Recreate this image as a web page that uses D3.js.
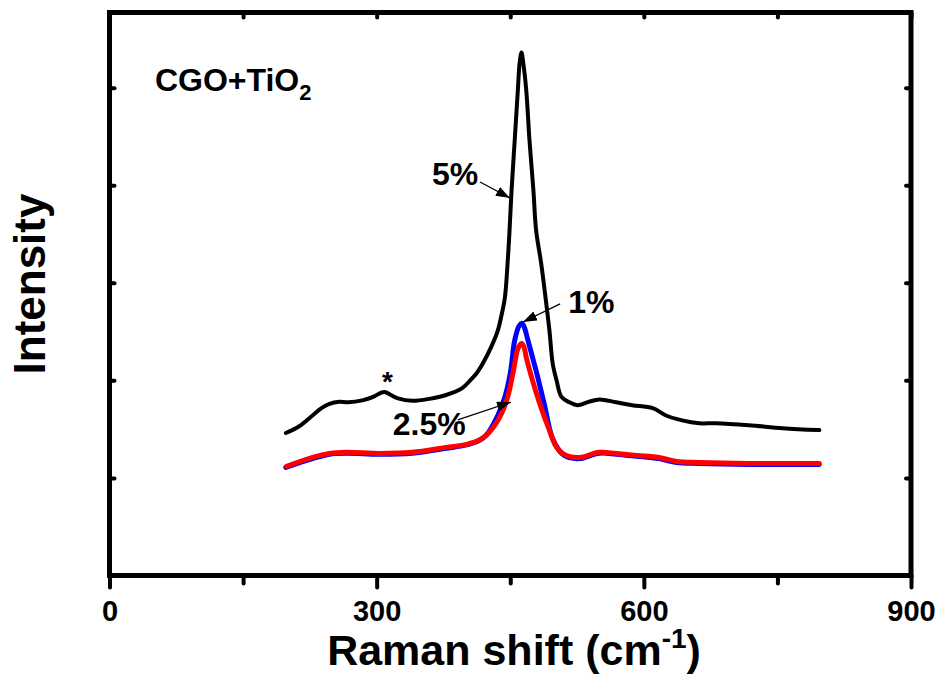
<html>
<head>
<meta charset="utf-8">
<title>Raman CGO+TiO2</title>
<style>
  body { margin: 0; background: #fff; }
  text { font-family: "Liberation Sans", Arial, sans-serif; font-weight: bold; fill: #000; }
</style>
<script src="https://cdn.jsdelivr.net/npm/d3@7"></script>
</head>
<body>
<div id="chart"></div>
<script>
// Raman shift (cm-1) vs intensity (a.u.)
var black5 = [[198,1460],[213,1530],[228,1640],[238,1715],[247,1760],[258,1780],[268,1775],[284,1795],[296,1830],[303,1865],[309,1880],[316,1850],[324,1815],[340,1790],[359,1810],[378,1850],[396,1920],[406,2010],[412,2070],[419,2170],[428,2330],[436,2510],[440,2660],[444,2850],[447,3200],[449,3500],[451.5,3950],[455,4460],[458.5,4970],[460.5,5250],[462.6,5360],[464.5,5260],[468,4970],[471.6,4460],[476,3950],[479,3540],[484.7,3200],[489.6,2850],[494,2510],[497.7,2170],[502,2000],[507.5,1830],[516.5,1775],[525.5,1745],[538,1780],[550,1805],[569,1775],[587,1745],[610,1715],[625,1640],[643,1590],[662,1560],[681,1560],[718,1540],[756,1510],[797,1490]];
var blue1 = [[198,1108],[228,1198],[247,1243],[266,1253],[303,1243],[340,1253],[378,1303],[401,1338],[415,1383],[423,1438],[436,1640],[444,1830],[450,2070],[455,2410],[460,2560],[463,2585],[466,2540],[469,2440],[474,2270],[479,2100],[488,1764],[497,1415],[505,1280],[511,1228],[516,1208],[528,1198],[550,1253],[569,1243],[592,1223],[617,1198],[637,1158],[662,1148],[718,1138],[797,1138]];
var red25 = [[199,1118],[228,1210],[247,1251],[266,1262],[303,1251],[340,1262],[378,1313],[401,1344],[415,1385],[423,1436],[438,1620],[447,1826],[453,2072],[458,2308],[460.5,2360],[463,2379],[465.5,2340],[468,2236],[475,2000],[483,1764],[494,1487],[502,1313],[509,1251],[516,1220],[528,1210],[550,1262],[569,1251],[592,1231],[617,1210],[637,1169],[662,1159],[718,1149],[797,1149]];

var xMajor = [0, 300, 600, 900];
var xMinor = [150, 450, 750];
var yTicks = [1000, 2000, 3000, 4000, 5000];

// labels: text, anchor point in data units
var labels = [
  {text: "5%",   x: 414, y: 4002, anchor: "end"},
  {text: "1%",   x: 515, y: 2690, anchor: "start"},
  {text: "2.5%", x: 318, y: 1440, anchor: "start"},
  {text: "*",    x: 312, y: 1891, anchor: "middle"}
];
// arrows: from -> to, data units
var arrows = [
  [[416, 4033], [449.7, 3869]],
  [[506, 2783], [464.3, 2598]],
  [[391, 1594], [450.8, 1778]]
];

var W = 941, H = 675;
var svg = d3.select('#chart').append('svg')
    .attr('width', W)
    .attr('height', H);

var x = d3.scaleLinear().domain([0, 900]).range([109.5, 911]);
var y = d3.scaleLinear().domain([0, 5770]).range([575.5, 12.5]);

svg.append('defs').append('marker')
    .attr('id', 'head')
    .attr('markerUnits', 'userSpaceOnUse')
    .attr('markerWidth', 14)
    .attr('markerHeight', 10)
    .attr('viewBox', '0 0 14 10')
    .attr('refX', 14)
    .attr('refY', 5)
    .attr('orient', 'auto')
  .append('path')
    .attr('d', 'M0,0L14,5L0,10Z')
    .attr('fill', '#000');

// bottom axis, ticks outward
var gx = svg.append('g').attr('transform', 'translate(0,' + y(0) + ')');
gx.call(d3.axisBottom(x).tickValues(xMajor).tickSize(12).tickPadding(12.5).tickFormat(d3.format('d')));
gx.append('g').call(d3.axisBottom(x).tickValues(xMinor).tickSize(8).tickFormat(''));
gx.selectAll('.domain').remove();
gx.selectAll('text').attr('font-size', 29).attr('font-family', '"Liberation Sans", Arial, sans-serif').attr('font-weight', 'bold').attr('fill', '#000');

// top axis, ticks inward
var gt = svg.append('g').attr('transform', 'translate(0,' + y(5770) + ')');
gt.call(d3.axisTop(x).tickValues(xMajor.concat(xMinor)).tickSize(-5).tickFormat(''));
gt.selectAll('.domain').remove();

// left + right axes, inward ticks, no labels
var gl = svg.append('g').attr('transform', 'translate(' + x(0) + ',0)');
gl.call(d3.axisLeft(y).tickValues(yTicks).tickSize(-5).tickFormat(''));
gl.selectAll('.domain').remove();
var gr = svg.append('g').attr('transform', 'translate(' + x(900) + ',0)');
gr.call(d3.axisRight(y).tickValues(yTicks).tickSize(-5).tickFormat(''));
gr.selectAll('.domain').remove();

svg.selectAll('.tick line')
    .attr('stroke', '#000')
    .attr('stroke-width', 4)
    .attr('stroke-linecap', 'round');

// frame
svg.append('rect')
    .attr('x', x(0))
    .attr('y', y(5770))
    .attr('width', x(900) - x(0))
    .attr('height', y(0) - y(5770))
    .attr('fill', 'none')
    .attr('stroke', '#000')
    .attr('stroke-width', 5);

var line = d3.line()
    .x(function(d) { return x(d[0]); })
    .y(function(d) { return y(d[1]); })
    .curve(d3.curveCatmullRom.alpha(0.5));

var series = [
  {data: black5, color: '#000', w: 4},
  {data: blue1,  color: '#0000ff', w: 5},
  {data: red25,  color: '#ff0000', w: 5}
];
svg.selectAll('path.spec')
    .data(series)
  .enter().append('path')
    .attr('class', 'spec')
    .attr('d', function(s) { return line(s.data); })
    .attr('fill', 'none')
    .attr('stroke', function(s) { return s.color; })
    .attr('stroke-width', function(s) { return s.w; })
    .attr('stroke-linejoin', 'round')
    .attr('stroke-linecap', 'round');

// annotations
svg.selectAll('text.lab')
    .data(labels)
  .enter().append('text')
    .attr('class', 'lab')
    .attr('x', function(d) { return x(d.x); })
    .attr('y', function(d) { return y(d.y); })
    .attr('text-anchor', function(d) { return d.anchor; })
    .attr('font-size', function(d) { return d.text == '*' ? 28 : 32; })
    .text(function(d) { return d.text; });

svg.selectAll('line.arr')
    .data(arrows)
  .enter().append('line')
    .attr('class', 'arr')
    .attr('x1', function(d) { return x(d[0][0]); })
    .attr('y1', function(d) { return y(d[0][1]); })
    .attr('x2', function(d) { return x(d[1][0]); })
    .attr('y2', function(d) { return y(d[1][1]); })
    .attr('stroke', '#000')
    .attr('stroke-width', 1.3)
    .attr('marker-end', 'url(#head)');

// sample name
var t = svg.append('text')
    .attr('x', x(51))
    .attr('y', y(4966))
    .attr('font-size', 32);
t.append('tspan').text('CGO+TiO');
t.append('tspan').attr('font-size', 22).attr('dy', 9).text('2');

// axis titles
var xt = svg.append('text')
    .attr('x', 514)
    .attr('y', 665)
    .attr('text-anchor', 'middle')
    .attr('font-size', 43);
xt.append('tspan').text('Raman shift (cm');
xt.append('tspan').attr('font-size', 28).attr('dy', -17).text('-1');
xt.append('tspan').attr('dy', 17).text(')');

svg.append('text')
    .attr('transform', 'translate(45,284) rotate(-90)')
    .attr('text-anchor', 'middle')
    .attr('font-size', 44)
    .text('Intensity');
</script>
</body>
</html>
